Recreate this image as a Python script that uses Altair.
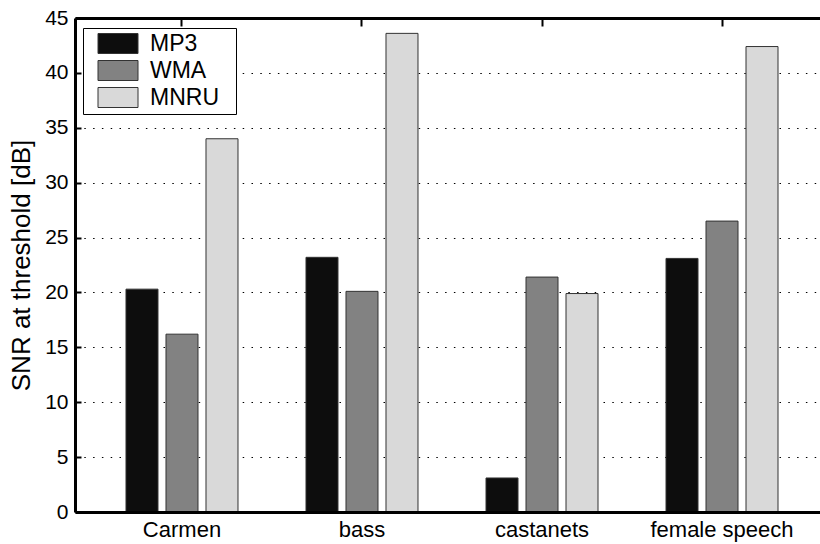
import altair as alt
import pandas as pd

categories = ["Carmen", "bass", "castanets", "female speech"]
codecs = ["MP3", "WMA", "MNRU"]
mp3 = [20.3, 23.2, 3.1, 23.1]
wma = [16.2, 20.1, 21.4, 26.5]
mnru = [34.0, 43.6, 19.9, 42.4]
y_ticks = [0, 5, 10, 15, 20, 25, 30, 35, 40, 45]
colors = ["#0d0d0d", "#828282", "#d9d9d9"]

rows = []
for codec, vals in zip(codecs, [mp3, wma, mnru]):
    for cat, v in zip(categories, vals):
        rows.append({"sample": cat, "codec": codec, "snr": v})
df = pd.DataFrame(rows)

FONT = "Liberation Sans"
W, H = 745, 494

x_scale = alt.Scale(domain=categories, range=[0, 754], paddingInner=0, paddingOuter=0.0944)
y_scale = alt.Scale(domain=[0, 45], nice=False, zero=True)

bars = alt.Chart(df).mark_bar(stroke="#333333", strokeWidth=1).encode(
    x=alt.X("sample:N", scale=x_scale, sort=categories,
            axis=alt.Axis(orient="bottom", title=None, ticks=False, domain=True,
                          domainColor="black", domainWidth=3, labelFont=FONT,
                          labelFontSize=22, labelColor="black", labelPadding=7,
                          labelAngle=0, zindex=1)),
    xOffset=alt.XOffset("codec:N", sort=codecs,
                        scale=alt.Scale(domain=codecs, paddingInner=0.2, paddingOuter=0.85)),
    y=alt.Y("snr:Q", scale=y_scale,
            axis=alt.Axis(values=y_ticks, title="SNR at threshold  [dB]", grid=True,
                          gridDash=[1.5, 7.3], gridColor="black", gridWidth=1,
                          ticks=False, domainColor="black", domainWidth=3,
                          labelFont=FONT, labelFontSize=21, labelColor="black",
                          labelPadding=7, titleFont=FONT, titleFontSize=26,
                          titleFontWeight="normal", titleColor="black", titlePadding=10)),
    color=alt.Color("codec:N", sort=codecs,
                    scale=alt.Scale(domain=codecs, range=colors),
                    legend=alt.Legend(orient="none", legendX=8, legendY=10, title=None,
                                      symbolType="M-2,-1H2V1H-2Z", symbolSize=400,
                                      symbolStrokeColor="#333333", symbolStrokeWidth=1,
                                      symbolOpacity=1, labelFont=FONT, labelFontSize=23,
                                      labelColor="black", padding=4, rowPadding=2,
                                      symbolOffset=19.5, labelOffset=20.5,
                                      strokeColor="black", fillColor="white",
                                      labelExpr="datum.label + '\u00a0\u00a0\u200b'")),
)

frame = alt.Chart(df).mark_point(opacity=0).encode(
    x=alt.X("sample:N", scale=x_scale, sort=categories,
            axis=alt.Axis(orient="bottom", offset=-H, labels=False, title=None,
                          ticks=True, tickSize=8, tickWidth=2, tickColor="black",
                          domain=True, domainColor="black", domainWidth=3, grid=False)),
    y=alt.Y("snr:Q", scale=y_scale,
            axis=alt.Axis(orient="right", offset=-W, values=y_ticks, labels=False,
                          title=None, domain=False, grid=False, ticks=True,
                          tickSize=6, tickWidth=2, tickColor="black")),
)

chart = alt.layer(bars, frame).resolve_axis(x="independent", y="independent").properties(
    width=W, height=H,
    autosize=alt.AutoSizeParams(type="none"),
    padding={"left": 75, "top": 18, "right": 0, "bottom": 32},
    background="white",
).configure_view(stroke=None)

chart.save("out.html", embed_options={"renderer": "svg", "actions": False})
